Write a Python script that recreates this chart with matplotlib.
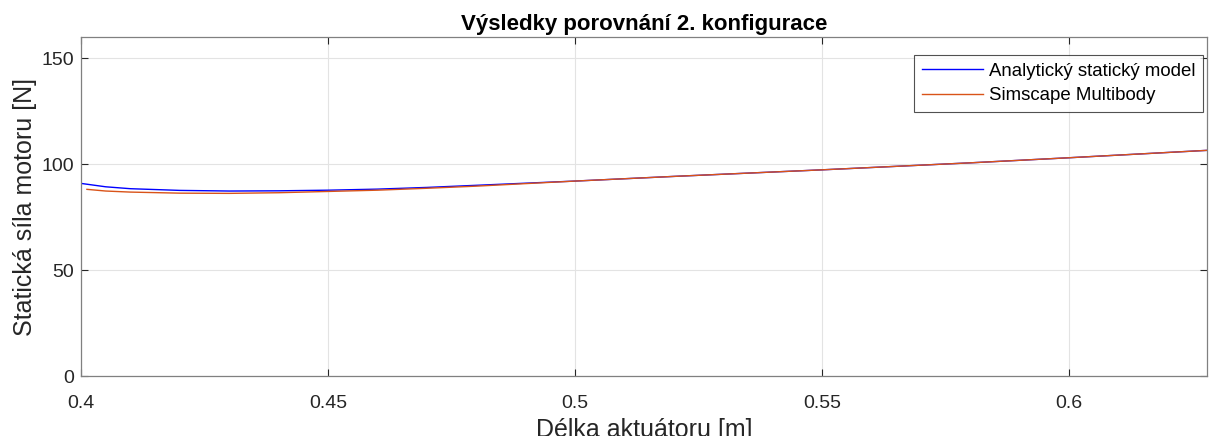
import matplotlib
matplotlib.use("Agg")
import matplotlib.pyplot as plt

plt.rcParams['font.family'] = ['Liberation Sans', 'DejaVu Sans']

# analytical static model
x_model = [0.400, 0.405, 0.410, 0.420, 0.430, 0.440, 0.450, 0.460, 0.470, 0.480,
           0.490, 0.500, 0.520, 0.550, 0.580, 0.600, 0.628]
f_model = [90.9, 89.3, 88.4, 87.6, 87.3, 87.4, 87.7, 88.2, 89.0, 90.0,
           91.0, 92.0, 94.2, 97.3, 100.6, 103.0, 106.5]

# simscape multibody
x_sim = [0.4012, 0.405, 0.410, 0.420, 0.430, 0.440, 0.450, 0.460, 0.470, 0.480,
         0.490, 0.500, 0.520, 0.550, 0.580, 0.600, 0.628]
f_sim = [88.1, 87.3, 86.8, 86.3, 86.2, 86.5, 87.1, 87.7, 88.6, 89.6,
         90.8, 92.0, 94.2, 97.3, 100.6, 103.0, 106.5]

xticks = [0.4, 0.45, 0.5, 0.55, 0.6]
xtick_labels = ['0.4', '0.45', '0.5', '0.55', '0.6']
yticks = [0, 50, 100, 150]

fig = plt.figure(figsize=(12.09, 4.36), dpi=100)
ax = fig.add_axes([81/1209, 60/436, 1126/1209, 339/436])

ax.plot(x_model, f_model, color='#0000ff', lw=1.0, label='Analytický statický model')
ax.plot(x_sim, f_sim, color='#d95319', lw=1.0, label='Simscape Multibody')

ax.set_xlim(0.4, 0.628)
ax.set_ylim(0, 160)
ax.set_xticks(xticks)
ax.set_xticklabels(xtick_labels)
ax.set_yticks(yticks)
ax.grid(True, color='#e3e3e3', lw=0.8)
ax.set_axisbelow(True)
ax.tick_params(direction='in', length=5, width=0.8, colors='#262626',
               labelsize=14, top=True, right=True)
ax.tick_params(axis='x', pad=14)
ax.tick_params(axis='y', pad=5)
for s in ax.spines.values():
    s.set_color('#808080')
    s.set_linewidth(0.9)

ax.set_title('Výsledky porovnání 2. konfigurace', fontsize=16, fontweight='bold', pad=5)
ax.set_xlabel('Délka aktuátoru [m]', fontsize=18, color='#262626', labelpad=4)
ax.set_ylabel('Statická síla motoru [N]', fontsize=18, color='#262626', labelpad=3)

leg = ax.legend(loc='upper right', bbox_to_anchor=(0.9964, 0.947), fontsize=13.4,
                frameon=True, fancybox=False, handlelength=3.3, borderpad=0.42,
                labelspacing=0.4, handletextpad=0.3, borderaxespad=0)
leg.get_frame().set_edgecolor('#262626')
leg.get_frame().set_linewidth(0.8)

fig.savefig('out.png', dpi=100)
